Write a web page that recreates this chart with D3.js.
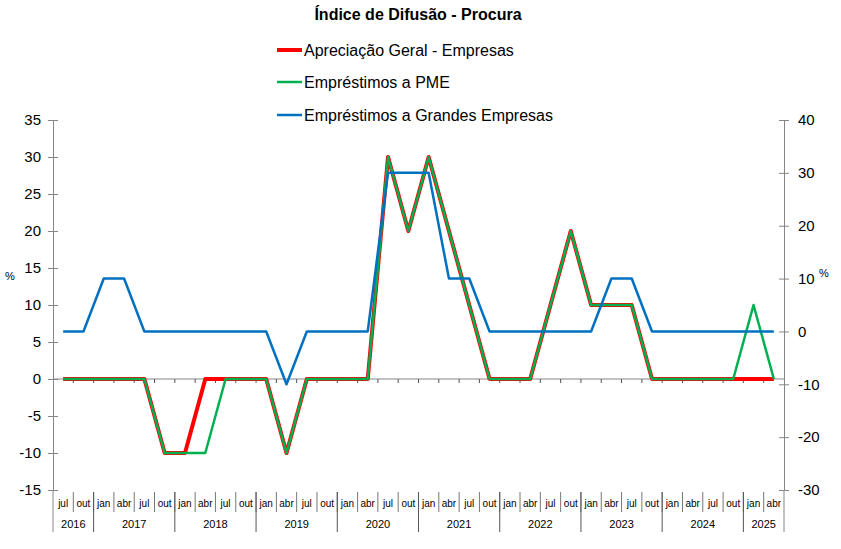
<!DOCTYPE html>
<html>
<head>
<meta charset="utf-8">
<script src="https://cdn.jsdelivr.net/npm/d3@7"></script>
<style>
  body { margin: 0; background: #fff; }
  svg { font-family: "Liberation Sans", Arial, sans-serif; }
</style>
</head>
<body>
<div id="chart"></div>
<script>
// quarters, jul 2016 .. abr 2025
const quarters = ['jul', 'out',
  'jan', 'abr', 'jul', 'out',
  'jan', 'abr', 'jul', 'out',
  'jan', 'abr', 'jul', 'out',
  'jan', 'abr', 'jul', 'out',
  'jan', 'abr', 'jul', 'out',
  'jan', 'abr', 'jul', 'out',
  'jan', 'abr', 'jul', 'out',
  'jan', 'abr', 'jul', 'out',
  'jan', 'abr'];
const years = ['2016', '2017', '2018', '2019', '2020', '2021', '2022', '2023', '2024', '2025'];
const quartersPerYear = [2, 4, 4, 4, 4, 4, 4, 4, 4, 2];

// left axis
const apreciacaoGeral = [0, 0, 0, 0, 0, -10, -10, 0, 0, 0, 0, -10, 0, 0, 0, 0, 30, 20, 30, 20, 10, 0, 0, 0, 10, 20, 10, 10, 10, 0, 0, 0, 0, 0, 0, 0];
const pme = [0, 0, 0, 0, 0, -10, -10, -10, 0, 0, 0, -10, 0, 0, 0, 0, 30, 20, 30, 20, 10, 0, 0, 0, 10, 20, 10, 10, 10, 0, 0, 0, 0, 0, 10, 0];
// right axis
const grandesEmpresas = [0, 0, 10, 10, 0, 0, 0, 0, 0, 0, 0, -10, 0, 0, 0, 0, 30, 30, 30, 10, 10, 0, 0, 0, 0, 0, 0, 10, 10, 0, 0, 0, 0, 0, 0, 0];

const leftTicks = [35, 30, 25, 20, 15, 10, 5, 0, -5, -10, -15];
const rightTicks = [40, 30, 20, 10, 0, -10, -20, -30];

const width = 841, height = 549;
const plot = { left: 53, right: 784, top: 120, bottom: 490 };

const svg = d3.select('#chart')
  .append('svg')
  .attr('width', width)
  .attr('height', height);

const x = d3.scaleBand()
  .domain(d3.range(quarters.length))
  .range([plot.left, plot.right])
  .padding(0);

const yLeft = d3.scaleLinear()
  .domain([-15, 35])
  .range([plot.bottom, plot.top]);

const yRight = d3.scaleLinear()
  .domain([-30, 40])
  .range([plot.bottom, plot.top]);

const cx = i => x(i) + x.bandwidth() / 2;
const axisColor = '#868686';

// Title
svg.append('text')
  .attr('x', 418)
  .attr('y', 20)
  .attr('text-anchor', 'middle')
  .attr('font-size', 16)
  .attr('font-weight', 'bold')
  .attr('fill', '#000')
  .text('Índice de Difusão - Procura');

// Left axis
const gl = svg.append('g')
  .attr('transform', `translate(${plot.left},0)`)
  .call(d3.axisLeft(yLeft).tickValues(leftTicks).tickSize(5).tickPadding(7).tickFormat(d => String(d)));
gl.select('.domain').attr('stroke', axisColor);
gl.selectAll('.tick line').attr('x1', 5).attr('x2', -5).attr('stroke', axisColor);
gl.selectAll('.tick text').attr('font-size', 15).attr('font-family', 'Liberation Sans, Arial, sans-serif').attr('fill', '#000');

// Right axis
const gr = svg.append('g')
  .attr('transform', `translate(${plot.right},0)`)
  .call(d3.axisRight(yRight).tickValues(rightTicks).tickSize(5).tickPadding(9).tickFormat(d => String(d)));
gr.select('.domain').attr('stroke', axisColor);
gr.selectAll('.tick line').attr('x1', -5).attr('x2', 5).attr('stroke', axisColor);
gr.selectAll('.tick text').attr('font-size', 15).attr('font-family', 'Liberation Sans, Arial, sans-serif').attr('fill', '#000');

// vertical axis lines continue down through the category labels
svg.append('line')
  .attr('x1', plot.left).attr('x2', plot.left)
  .attr('y1', plot.bottom).attr('y2', 532)
  .attr('stroke', axisColor);
svg.append('line')
  .attr('x1', plot.right).attr('x2', plot.right)
  .attr('y1', plot.bottom).attr('y2', 532)
  .attr('stroke', axisColor);

// % labels
svg.append('text').attr('x', 10).attr('y', 280).attr('text-anchor', 'middle').attr('font-size', 11).attr('fill', '#000').text('%');
svg.append('text').attr('x', 819).attr('y', 277).attr('font-size', 11).attr('fill', '#000').text('%');

// zero line with small ticks
const zy = yLeft(0);
svg.append('line')
  .attr('x1', plot.left).attr('x2', plot.right)
  .attr('y1', zy).attr('y2', zy)
  .attr('stroke', axisColor);
svg.selectAll('line.zero-tick')
  .data(d3.range(1, quarters.length))
  .enter()
  .append('line')
  .attr('class', 'zero-tick')
  .attr('x1', d => x(d)).attr('x2', d => x(d))
  .attr('y1', zy).attr('y2', zy + 4)
  .attr('stroke', '#555');

// Category labels: quarters
svg.selectAll('text.quarter')
  .data(quarters)
  .enter()
  .append('text')
  .attr('class', 'quarter')
  .attr('x', (d, i) => cx(i))
  .attr('y', 507)
  .attr('text-anchor', 'middle')
  .attr('font-size', 10)
  .attr('fill', '#000')
  .text(d => d);

svg.selectAll('line.quarter-sep')
  .data(d3.range(1, quarters.length))
  .enter()
  .append('line')
  .attr('class', 'quarter-sep')
  .attr('x1', d => x(d)).attr('x2', d => x(d))
  .attr('y1', 492).attr('y2', 512)
  .attr('stroke', '#777');

// Category labels: years
const yearStart = d3.cumsum([0, ...quartersPerYear]);
svg.selectAll('text.year')
  .data(years)
  .enter()
  .append('text')
  .attr('class', 'year')
  .attr('x', (d, i) => (x(yearStart[i]) + x(yearStart[i + 1] - 1) + x.bandwidth()) / 2)
  .attr('y', 528)
  .attr('text-anchor', 'middle')
  .attr('font-size', 11)
  .attr('fill', '#000')
  .text(d => d);

svg.selectAll('line.year-sep')
  .data(yearStart.slice(1, -1))
  .enter()
  .append('line')
  .attr('class', 'year-sep')
  .attr('x1', d => x(d)).attr('x2', d => x(d))
  .attr('y1', 492).attr('y2', 532)
  .attr('stroke', '#555');

// Series
const series = [
  { name: 'Apreciação Geral - Empresas', values: apreciacaoGeral, y: yLeft, color: '#ff0000', width: 4 },
  { name: 'Empréstimos a PME', values: pme, y: yLeft, color: '#00b050', width: 2.5 },
  { name: 'Empréstimos a Grandes Empresas', values: grandesEmpresas, y: yRight, color: '#0070c0', width: 2.5 }
];

series.forEach(s => {
  const line = d3.line()
    .x((d, i) => cx(i))
    .y(d => s.y(d));
  svg.append('path')
    .datum(s.values)
    .attr('fill', 'none')
    .attr('stroke', s.color)
    .attr('stroke-width', s.width)
    .attr('stroke-linejoin', 'round')
    .attr('d', line);
});

// Legend
const legend = svg.append('g');
const legendRows = [50, 82, 115];
series.forEach((s, i) => {
  legend.append('line')
    .attr('x1', 277).attr('x2', 302)
    .attr('y1', legendRows[i]).attr('y2', legendRows[i])
    .attr('stroke', s.color)
    .attr('stroke-width', s.width);
  legend.append('text')
    .attr('x', 304)
    .attr('y', legendRows[i] + 5.5)
    .attr('font-size', 16)
    .attr('fill', '#000')
    .text(s.name);
});
</script>
</body>
</html>
